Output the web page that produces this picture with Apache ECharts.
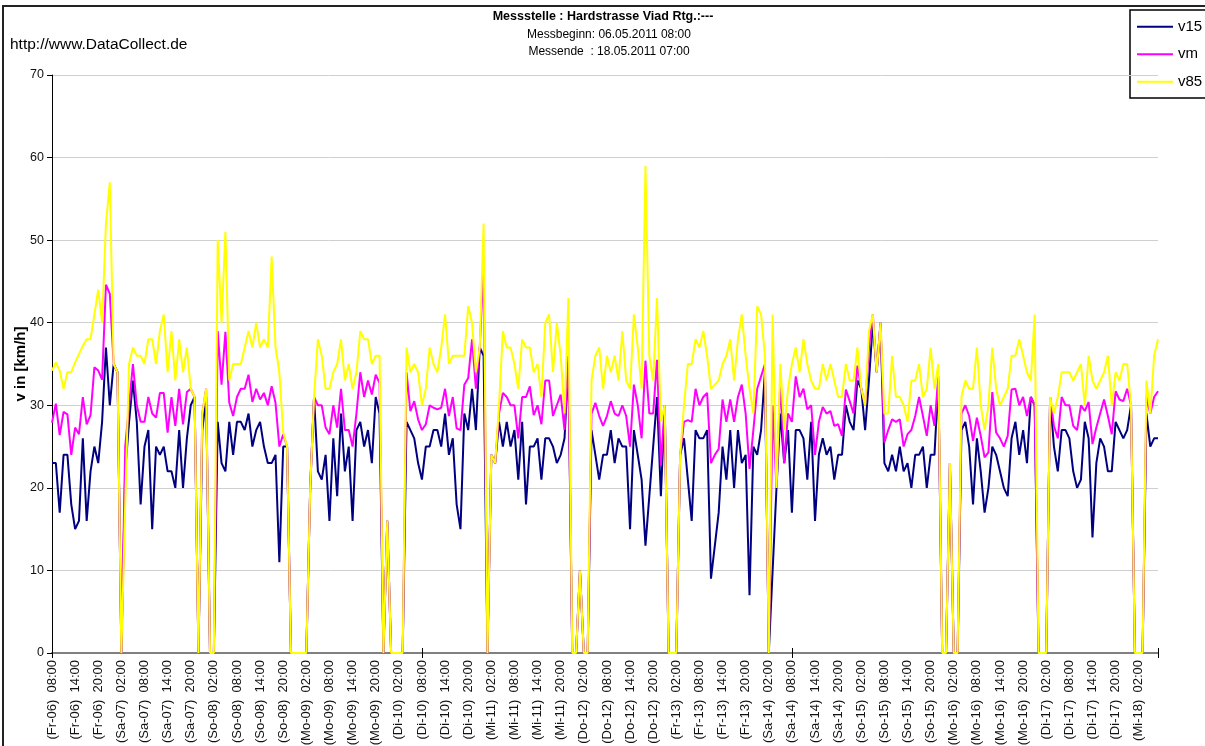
<!DOCTYPE html>
<html>
<head>
<meta charset="utf-8">
<script src="https://cdn.jsdelivr.net/npm/echarts@6/dist/echarts.min.js"></script>
<style>
html,body{margin:0;padding:0;background:#fff;}
#chart{width:1205px;height:746px;}
</style>
</head>
<body>
<div id="chart"></div>
<script>
// ---- data ----
const dayNames = ['Fr','Sa','So','Mo','Di','Mi','Do','Fr','Sa','So','Mo','Di','Mi'];
const dayNums  = ['06','07','08','09','10','11','12','13','14','15','16','17','18'];
const startHour = 8;
const hourCount = 288;
const yTicks = [0,10,20,30,40,50,60,70];

const v15 = [
23,23,17,24,24,18,15,16,26,16,22,25,23,28,37,30,35,34,
0,
22,28,33,28,18,25,27,15,25,24,25,22,22,
20,27,20,26,30,31,
0,27,31,0,0,
28,23,22,28,24,28,28,27,29,25,27,28,25,23,23,24,11,25,25,
0,0,0,0,0,
20,31,
22,21,24,16,26,19,29,22,25,16,27,28,25,27,23,31,29,
0,16,0,0,0,0,
28,27,26,23,
21,25,25,27,27,25,29,24,26,18,15,29,27,32,27,37,36,
0,
24,23,28,25,28,25,27,21,28,18,25,25,26,21,26,
26,25,23,24,26,35,
0,0,10,0,0,
27,24,21,24,24,27,23,26,25,25,15,27,24,21,13,19,25,31,19,30,
0,0,0,
24,26,21,16,27,26,26,27,9,
13,17,
25,21,27,20,27,23,24,7,25,24,27,34,
0,
10,20,29,23,27,17,27,27,
26,21,28,16,24,26,24,25,21,24,24,30,28,27,33,32,27,33,40,34,40,23,22,24,22,25,22,23,20,24,24,25,
20,24,24,33,
0,0,23,0,0,
27,28,25,18,26,22,17,20,25,24,22,20,19,26,28,24,27,23,31,30,
0,0,0,
31,25,22,27,27,26,22,20,21,28,26,14,23,26,25,22,22,28,27,26,27,30,
0,0,0,
29,25,26,26
];

const vm = [
27.9,30.2,26.4,29.2,28.9,24,27.3,26.5,31,27.7,28.8,34.6,34.2,33.1,44.6,43.5,35,34,
0,
25,30,35,30,28,28,31,29,28.5,31.5,31.5,26.7,31,
27.5,32,27.7,31.6,32,31,
0,29,32,0,0,
39,32.5,38.9,30.3,28.7,31,32,32,33.7,30.4,32,30.7,31.5,30,32.3,30.3,25,26.5,25,
0,0,0,0,0,
20,31,
30,30,27.3,26.5,30,27.3,32,27,27,25,29,34,31,33,31.3,33.7,32.7,
0,16,0,0,0,0,
34,29.3,30.5,28.3,
27,27.7,30,29.7,29.5,29.7,32,28.7,31,27.2,27,32.5,33.3,38,32,37,47,
0,
24,23,29,31.5,31,30,30,26,31,31,32.3,28.8,30,27.7,33,
33,28.7,30,31.3,27,36,
0,0,10,0,0,
29,30.3,28.7,27.5,28.7,30.5,29,28.7,30,28.7,25,32.5,30,26,35.4,29,29,35.5,22.7,30,
0,0,0,
24,28,28.2,28,32,30,31,31.5,23,
24,24.7,
30.7,28,30.7,28,31,32.5,29,22.3,27,32,33.5,35,
0,
30,20,33,23,29,28,33.5,31,
32,29.5,30,24,28,29.8,29,29.3,27.5,27.7,26.3,31.9,30.5,29,34.8,32,30,37,41,34,40,25.5,27,28.3,28,28.3,25,26.5,27,28.7,31,28.7,
26.3,30,27.5,33.5,
0,0,23,0,0,
29,30,28.7,25.7,28.5,26.3,23.7,24.3,31.6,26.7,26,25,26.3,31.9,32,30,31,28.7,31,30,
0,0,0,
31,27.5,26,31,30,30,27.5,27,30,29.3,30.4,25.3,27.3,29,30.7,28.7,26.5,31.7,30.7,30.5,32,30,
0,0,0,
31,29,31,31.7
];

const v85 = [
34.2,35.2,34.2,32,34,34,35.2,36.2,37.2,38,38,41,44,40,52,57,35,34,
0,
18,35,37,36,36,35,38,38,35,39,41,34,39,
33,38,34,37,32,31,
0,29,32,0,0,
50,40,51,33,35,35,35,37,39,37,40,37,38,37,48,37,34,26.7,25,
0,0,0,0,0,
20,31,
38,36,32,32,34,35,38,33,35,32,34,39,38,38,35,36,36,
0,16,0,0,0,0,
37,34,35,34,
30,32,37,35,34,37,41,35,36,36,36,36,42,40,34,37,52,
0,
24,23,30,39,37,37,35,32,38,37,37,34,35,31,40,
41,34,40,36,29,43,
0,0,10,0,0,
33,36,37,32,36,34,36,33,39,33,32,41,37,32,59,36,33,43,28,30,
0,0,0,
24,30,35,35,38,37,39,36,32,
32.5,33,
35,36,38,33,38,41,36,32,29,42,41,36,
0,
41,20,35,27,32,35,37,34,
38,35,33,32,32,35,33,35,33,31,31,35,33,33,37,32,30,39,41,34,40,29,29,36,31,31,30,28,33,33,35,31,
32,37,32,35,
0,0,23,0,0,
31,33,32,32,37,30,27,30,37,32,30,31,32,36,36,38,36,34,33,41,
0,0,0,
31,29,31,34,34,34,33,34,35,30,36,33,32,33,34,36,30,34,33,35,35,30,
0,0,0,
33,29,36,38
];

// ---- categories (hourly time stamps) ----
const categories = [];
for (let h = 0; h < hourCount; h++) {
  const t = startHour + h;
  const d = Math.floor(t / 24);
  const hh = t % 24;
  categories.push('(' + dayNames[d] + '-' + dayNums[d] + ')  ' + (hh < 10 ? '0' : '') + hh + ':00');
}

const FONT = '"Liberation Sans", Arial, sans-serif';
const tickIdx = function (i) { return i % 96 === 0 || i === hourCount - 1; };

const chart = echarts.init(document.getElementById('chart'), null, {renderer: 'canvas'});

const graphics = [
  {type:'rect', shape:{x:3, y:6, width:1240, height:800}, style:{fill:'none', stroke:'#222', lineWidth:2}, z:100},
  {type:'text', x:10, y:45, style:{text:'http://www.DataCollect.de', font:'15.5px ' + FONT, fill:'#000', textVerticalAlign:'middle'}},
  {type:'text', x:603, y:17, style:{text:'Messstelle : Hardstrasse Viad Rtg.:---', font:'bold 12.5px ' + FONT, fill:'#000', textAlign:'center', textVerticalAlign:'middle'}},
  {type:'text', x:609, y:35, style:{text:'Messbeginn: 06.05.2011 08:00', font:'12px ' + FONT, fill:'#000', textAlign:'center', textVerticalAlign:'middle'}},
  {type:'text', x:609, y:52, style:{text:'Messende  : 18.05.2011 07:00', font:'12px ' + FONT, fill:'#000', textAlign:'center', textVerticalAlign:'middle'}},
  {type:'rect', shape:{x:1130, y:10, width:100, height:88}, style:{fill:'#fff', stroke:'#000', lineWidth:1.5}, z:-1}
];
if (v15.length !== hourCount || vm.length !== hourCount || v85.length !== hourCount) {
  graphics.push({type:'text', x:300, y:120, style:{text:'LEN ' + v15.length + ' ' + vm.length + ' ' + v85.length, font:'bold 20px sans-serif', fill:'red'}});
}

chart.setOption({
  animation: false,
  backgroundColor: '#fff',
  textStyle: {fontFamily: FONT},
  graphic: graphics,
  legend: {
    left: 1132, top: 13, orient: 'vertical',
    icon: 'rect', itemWidth: 36, itemHeight: 2, itemGap: 10,
    textStyle: {fontSize: 15, lineHeight: 17.5, color: '#000', fontFamily: FONT},
    data: ['v15','vm','v85']
  },
  grid: {left: 52, top: 75, right: 47, bottom: 93, containLabel: false, outerBoundsMode: 'none'},
  xAxis: [{
    type: 'category', data: categories, boundaryGap: false,
    axisLine: {show: true, lineStyle: {color: '#808080', width: 2}},
    axisTick: {show: true, interval: tickIdx, length: 5, lineStyle: {color: '#000'}},
    axisLabel: {interval: 5, rotate: 90, fontSize: 13, color: '#111', margin: 7, fontFamily: FONT},
    splitLine: {show: false}
  }, {
    type: 'category', data: categories, boundaryGap: false, position: 'bottom',
    axisLine: {show: false},
    axisTick: {show: true, inside: true, interval: tickIdx, length: 5, lineStyle: {color: '#000'}},
    axisLabel: {show: false},
    splitLine: {show: false}
  }],
  yAxis: {
    type: 'value', min: yTicks[0], max: yTicks[yTicks.length - 1], interval: 10,
    name: 'v in [km/h]', nameLocation: 'middle', nameGap: 24, nameRotate: 90, nameMoveOverlap: false,
    nameTextStyle: {fontSize: 15, fontWeight: 'bold', color: '#000', fontFamily: FONT},
    axisLine: {show: true, lineStyle: {color: '#000', width: 1}},
    axisTick: {show: true, length: 5, lineStyle: {color: '#000'}},
    axisLabel: {fontSize: 12.5, color: '#111', margin: 8, fontFamily: FONT},
    splitLine: {show: true, lineStyle: {color: '#cfcfcf', width: 1}}
  },
  series: [
    {name: 'v15', type: 'line', data: v15, symbol: 'none', showSymbol: false, lineStyle: {color: '#000080', width: 2}, itemStyle: {color: '#000080'}},
    {name: 'vm',  type: 'line', data: vm,  symbol: 'none', showSymbol: false, lineStyle: {color: '#ff00ff', width: 2}, itemStyle: {color: '#ff00ff'}},
    {name: 'v85', type: 'line', data: v85, symbol: 'none', showSymbol: false, lineStyle: {color: '#ffff00', width: 2}, itemStyle: {color: '#ffff00'}}
  ]
});
</script>
</body>
</html>
